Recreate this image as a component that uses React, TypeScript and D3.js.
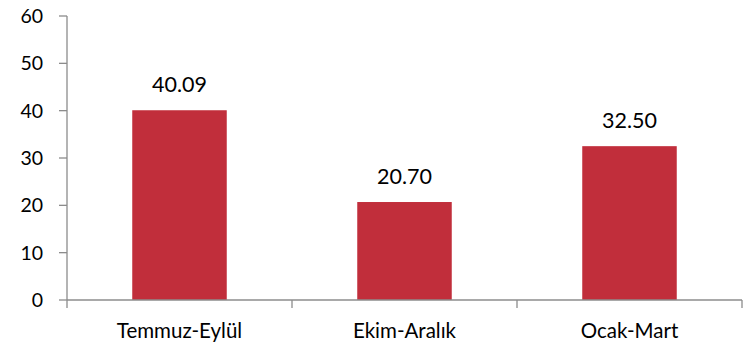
import React from "react";
import * as d3 from "d3";

const categories = ["Temmuz-Eylül", "Ekim-Aralık", "Ocak-Mart"];
const values = [40.09, 20.7, 32.5];
const yTicks = [0, 10, 20, 30, 40, 50, 60];

export default function App() {
  const W = 747, H = 345;
  const left = 67, right = 742, top = 16, bottom = 300;
  const x = d3.scaleBand<string>().domain(categories).range([left, right]).paddingInner(0.58).paddingOuter(0.29);
  const band = d3.scaleBand<string>().domain(categories).range([left, right]);
  const y = d3.scaleLinear().domain([0, 60]).range([bottom, top]);
  const font = "Lato, 'Open Sans', sans-serif";
  const axisColor = "#8c8c8c";
  return (
    <svg width={W} height={H} style={{ position: "absolute", left: 0, top: 0 }} fontFamily={font}>
      <rect width={W} height={H} fill="#fff" />
      {categories.map((c, i) => (
        <rect key={c} x={x(c)} y={y(values[i])} width={x.bandwidth()} height={bottom - y(values[i])} fill="#C12E3B" />
      ))}
      <line x1={left} x2={left} y1={top} y2={bottom} stroke={axisColor} strokeWidth={1.3} />
      <line x1={left} x2={right} y1={bottom} y2={bottom} stroke={axisColor} strokeWidth={1.3} />
      {yTicks.map((t) => (
        <g key={t}>
          <line x1={left - 8} x2={left} y1={y(t)} y2={y(t)} stroke={axisColor} strokeWidth={1.3} />
          <text x={43} y={y(t)} dy="0.36em" textAnchor="end" fontSize={19.5} fill="#000">{t}</text>
        </g>
      ))}
      {[...categories.map((c) => band(c) as number), right].map((px, i) => (
        <line key={i} x1={px} x2={px} y1={bottom} y2={bottom + 8} stroke={axisColor} strokeWidth={1.3} />
      ))}
      {categories.map((c) => (
        <text key={c} x={(band(c) as number) + band.bandwidth() / 2} y={338} textAnchor="middle" fontSize={20.5} fill="#000">{c}</text>
      ))}
      {categories.map((c, i) => (
        <text key={c} x={(x(c) as number) + x.bandwidth() / 2} y={y(values[i]) - 18} textAnchor="middle" fontSize={21.5} fill="#000">{values[i].toFixed(2)}</text>
      ))}
    </svg>
  );
}
